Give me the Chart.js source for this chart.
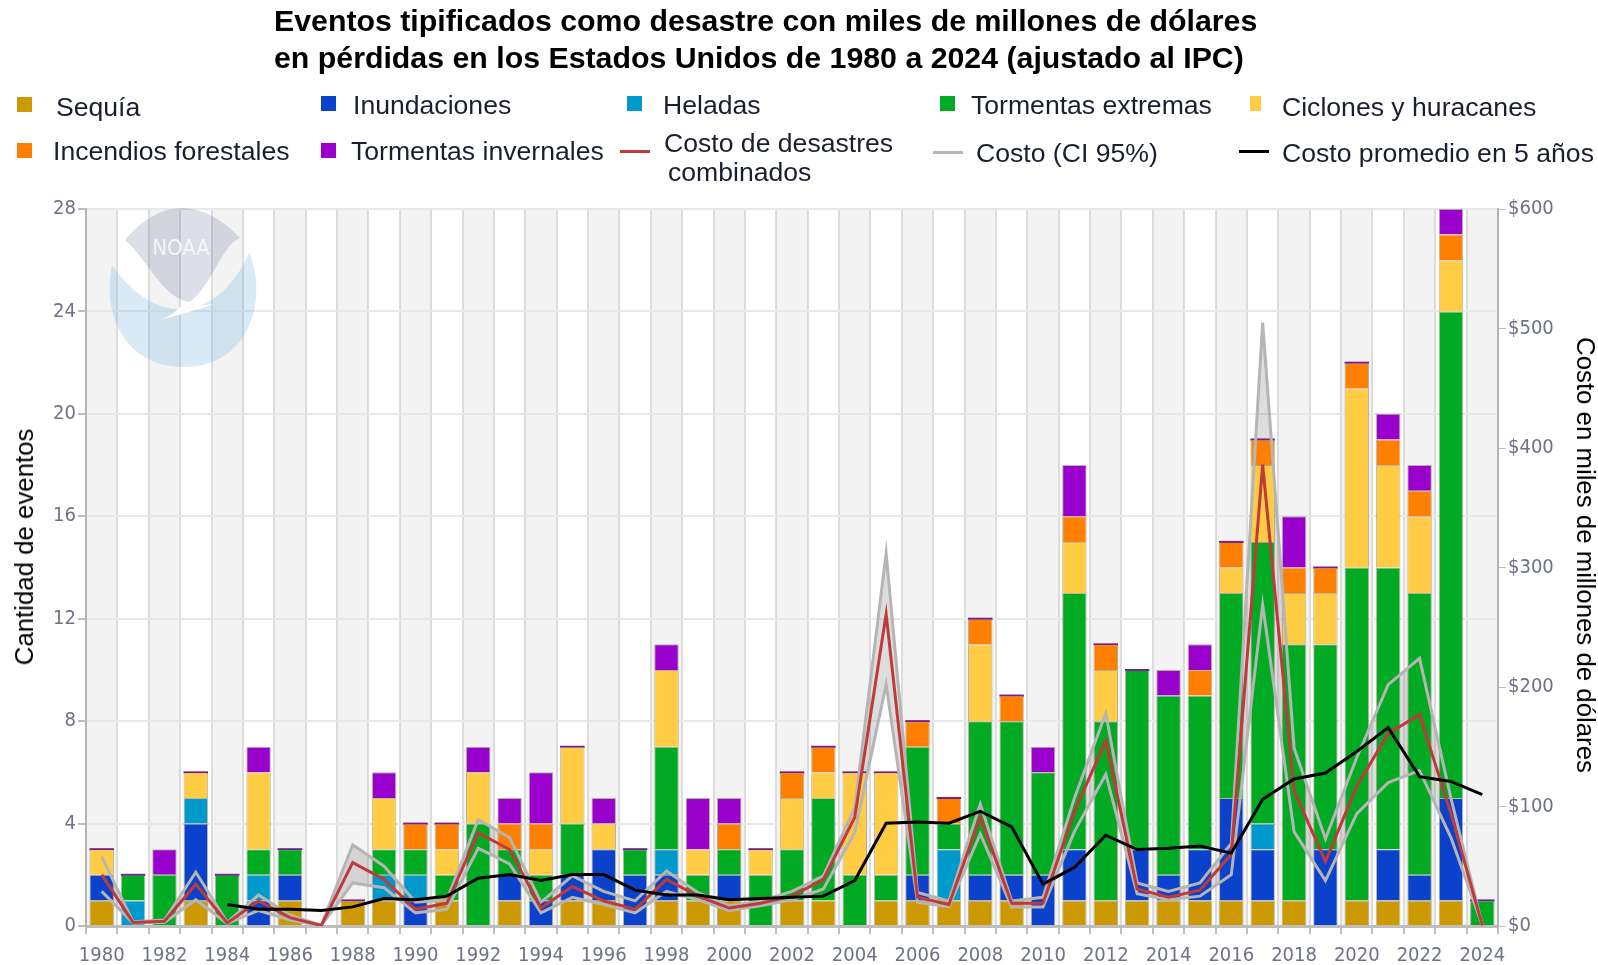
<!DOCTYPE html>
<html lang="es">
<head>
<meta charset="utf-8">
<title>Eventos de desastre en Estados Unidos</title>
<script src="https://cdn.jsdelivr.net/npm/chart.js@4"></script>
<style>
    html, body { margin: 0; padding: 0; background: #ffffff; }
    #wrap { position: relative; width: 1598px; height: 965px; overflow: hidden; font-family: "Liberation Sans", Arial, sans-serif; filter: blur(0.6px); }
    #chart { position: absolute; left: 0; top: 0; }
    #title { position: absolute; left: 274px; top: 2px; font-size: 30.3px; line-height: 37px; font-weight: bold; color: #000; white-space: nowrap; }
    .lg { position: absolute; font-size: 26.6px; line-height: 29px; color: #1a1f30; white-space: nowrap; }
    .sw { position: absolute; width: 15px; height: 15px; }
    .ln { position: absolute; width: 30px; height: 3px; }
    .axt { position: absolute; font-size: 25.8px; line-height: 30px; color: #000; white-space: nowrap; }
</style>
</head>
<body>
<div id="wrap">
    <canvas id="chart" width="1598" height="965"></canvas>
    <div id="title">Eventos tipificados como desastre con miles de millones de dólares<br>en pérdidas en los Estados Unidos de 1980 a 2024 (ajustado al IPC)</div>

    <div class="sw" style="left:17px;top:97px;background:#cc9900"></div><div class="lg" style="left:56px;top:93px">Sequía</div>
    <div class="sw" style="left:321px;top:96px;background:#0a42cc"></div><div class="lg" style="left:353px;top:91px">Inundaciones</div>
    <div class="sw" style="left:627px;top:96px;background:#0099cc"></div><div class="lg" style="left:663px;top:91px">Heladas</div>
    <div class="sw" style="left:940px;top:96px;background:#00aa22"></div><div class="lg" style="left:971px;top:91px">Tormentas extremas</div>
    <div class="sw" style="left:1250px;top:96px;width:11px;background:#ffcc44"></div><div class="lg" style="left:1282px;top:93px">Ciclones y huracanes</div>
    <div class="sw" style="left:17px;top:143px;background:#ff8000"></div><div class="lg" style="left:53px;top:137px">Incendios forestales</div>
    <div class="sw" style="left:321px;top:143px;background:#9900cc"></div><div class="lg" style="left:351px;top:137px">Tormentas invernales</div>
    <div class="ln" style="left:620px;top:150px;background:#c0393b"></div><div class="lg" style="left:664px;top:129px">Costo de desastres</div><div class="lg" style="left:668px;top:158px">combinados</div>
    <div class="ln" style="left:933px;top:151px;background:#b5b5b5"></div><div class="lg" style="left:976px;top:139px">Costo (CI 95%)</div>
    <div class="ln" style="left:1239px;top:150px;background:#000"></div><div class="lg" style="left:1282px;top:139px">Costo promedio en 5 años</div>

    <div class="axt" style="left:24px;top:547px;transform:translate(-50%,-50%) rotate(-90deg)">Cantidad de eventos</div>
    <div class="axt" style="left:1586px;top:555px;transform:translate(-50%,-50%) rotate(90deg)">Costo en miles de millones de dólares</div>
</div>

<script>
// --- DATA ---
const years = [];
for (let y = 1980; y <= 2024; y++) years.push(String(y));

// events per year
const drought  = [1,0,0,1,0,0,1,0,1,1,0,1,0,1,0,1,1,0,1,1,1,0,1,1,0,1,1,1,1,1,0,1,1,1,1,1,1,1,1,0,1,1,1,1,0];
const flood    = [1,0,0,3,0,1,1,0,0,0,1,0,0,1,1,1,2,2,1,0,1,0,0,0,0,0,1,0,1,1,2,2,0,2,1,2,4,2,0,3,0,2,1,4,0];
const freeze   = [0,1,0,1,0,1,0,0,0,1,1,0,0,0,0,0,0,0,1,0,0,0,0,0,0,0,0,2,0,0,0,0,0,0,0,0,0,1,0,0,0,0,0,0,0];
const severe   = [0,1,2,0,2,1,1,0,0,1,1,1,4,1,1,2,0,1,4,1,1,2,2,4,2,1,5,1,6,6,4,10,7,7,7,6,8,11,10,8,13,11,11,19,1];
const cyclone  = [1,0,0,1,0,3,0,0,0,2,0,1,2,0,1,3,1,0,3,1,0,1,2,1,4,4,0,0,3,0,0,2,2,0,0,0,1,3,2,2,7,4,3,2,0];
const wildfire = [0,0,0,0,0,0,0,0,0,0,1,1,0,1,1,0,0,0,0,0,1,0,1,1,0,0,1,1,1,1,0,1,1,0,0,1,1,1,1,1,1,1,1,1,0];
const winter   = [0,0,1,0,0,1,0,0,0,1,0,0,1,1,2,0,1,0,1,2,1,0,0,0,0,0,0,0,0,0,1,2,0,0,1,1,0,0,2,0,0,1,1,1,0];

// cost in billions of dollars
const costAll = [43,3,4,35,2.5,21,7,0.5,53,39,14,19,78,64,15,33,21,14,39,25,15,19,25,39,91,261,24,18,91,19,19,96,155,31,24,30,60,386,113,54,117,161,177,94,0.5];
const costHigh = [58,3.5,5,45,3,26,9,0.7,68,50,20,22,89,74,20,42,29,21,46,28,17,21,29,42,99,312,28,21,102,21,24,107,178,36,29,36,69,505,149,73,141,202,224,107,0.6];
const costLow = [29,2.5,3,22,2,13,5,0.4,36,32,11,14,65,52,11,24,18,11,29,22,13,17,22,31,78,202,20,16,77,16,16,79,127,27,22,25,43,269,79,38,94,120,130,74,0.4];
const cost5yr = [null,null,null,null,18,14,14,13,16,23,22,25,40,43,38,43,43,30,26,26,22,23,24,25,38,86,87,86,96,83,35,49,76,64,65,67,61,106,123,128,146,166,125,121,110];

// --- PLUGINS ---
// alternating grey columns behind the grid
const bandsPlugin = {
    id: 'bands',
    beforeDraw(chart) {
        const { ctx, chartArea, scales } = chart;
        const half = (scales.x.getPixelForTick(1) - scales.x.getPixelForTick(0)) / 2;
        ctx.save();
        ctx.fillStyle = '#f3f3f3';
        years.forEach((yr, i) => {
            if (i % 2 === 0) {
                const cx = scales.x.getPixelForTick(i);
                ctx.fillRect(cx - half, chartArea.top, half * 2, chartArea.height);
            }
        });
        ctx.restore();
    }
};

// NOAA watermark
const logoPlugin = {
    id: 'logo',
    beforeDatasetsDraw(chart) {
        const ctx = chart.ctx;
        ctx.save();
        ctx.beginPath();
        ctx.moveTo(112, 265);
        ctx.bezierCurveTo(126, 285, 150, 310, 182, 309);
        ctx.bezierCurveTo(212, 308, 235, 285, 249, 253);
        ctx.bezierCurveTo(268, 295, 252, 367, 184, 367);
        ctx.bezierCurveTo(122, 367, 102, 310, 112, 265);
        ctx.fillStyle = 'rgba(110,180,225,0.27)';
        ctx.fill();

        ctx.beginPath();
        ctx.moveTo(125, 240);
        ctx.bezierCurveTo(140, 222, 160, 208, 182, 208);
        ctx.bezierCurveTo(205, 208, 225, 222, 240, 238);
        ctx.bezierCurveTo(222, 245, 212, 285, 190, 302);
        ctx.bezierCurveTo(162, 298, 150, 262, 125, 240);
        ctx.fillStyle = 'rgba(70,85,135,0.19)';
        ctx.fill();

        // white tail of the bird
        ctx.beginPath();
        ctx.moveTo(160, 320);
        ctx.quadraticCurveTo(190, 312, 214, 304);
        ctx.quadraticCurveTo(195, 306, 180, 307);
        ctx.quadraticCurveTo(172, 316, 160, 320);
        ctx.fillStyle = '#ffffff';
        ctx.fill();

        ctx.fillStyle = '#f4f5f8';
        ctx.font = '22px "DejaVu Sans Condensed", "DejaVu Sans"';
        ctx.textAlign = 'center';
        ctx.textBaseline = 'middle';
        ctx.fillText('NOAA', 181, 249);
        ctx.restore();
    }
};

// thin winter storm cap that the source leaves on every non empty bar
const capPlugin = {
    id: 'cap',
    afterDatasetDraw(chart, args) {
        if (chart.data.datasets[args.index].label !== 'Tormentas invernales') return;
        const ctx = chart.ctx;
        ctx.save();
        ctx.fillStyle = '#7a1fa0';
        args.meta.data.forEach((bar, i) => {
            if (winter[i] === 0 && bar.y < chart.chartArea.bottom - 1) {
                ctx.fillRect(bar.x - bar.width / 2, bar.y - 1, bar.width, 2);
            }
        });
        ctx.restore();
    }
};

// --- CHART ---
function barSet(label, data, color) {
    return {
        type: 'bar', label, data, backgroundColor: color,
        borderColor: 'rgba(70,50,0,0.35)', borderWidth: 1, order: 10,
        barPercentage: 0.78, categoryPercentage: 1, yAxisID: 'y', stack: 'events'
    };
}

function lineSet(label, data, color, width, order) {
    return {
        type: 'line', label, data, borderColor: color, borderWidth: width, order,
        pointRadius: 0, tension: 0, fill: false, yAxisID: 'y1', borderJoinStyle: 'miter'
    };
}

const tickFont = { family: '"DejaVu Sans Condensed", "DejaVu Sans"', size: 20 };
const tickColor = '#6e7285';

const upperBand = lineSet('CI banda alta', costHigh, 'rgba(0,0,0,0)', 0, 20);
upperBand.fill = '+1';
upperBand.backgroundColor = 'rgba(120,120,120,0.25)';
const lowerBand = lineSet('CI banda baja', costLow, 'rgba(0,0,0,0)', 0, 21);

new Chart(document.getElementById('chart'), {
    data: {
        labels: years,
        datasets: [
            upperBand,
            lowerBand,
            barSet('Sequía', drought, '#cc9900'),
            barSet('Inundaciones', flood, '#0a42cc'),
            barSet('Heladas', freeze, '#0099cc'),
            barSet('Tormentas extremas', severe, '#00aa22'),
            barSet('Ciclones y huracanes', cyclone, '#ffcc44'),
            barSet('Incendios forestales', wildfire, '#ff8000'),
            barSet('Tormentas invernales', winter, '#9900cc'),
            lineSet('Costo (CI 95%) alto', costHigh, '#b5b5b5', 3, 3),
            lineSet('Costo (CI 95%) bajo', costLow, '#b5b5b5', 3, 3),
            lineSet('Costo de desastres combinados', costAll, '#c0393b', 3, 2),
            lineSet('Costo promedio en 5 años', cost5yr, '#000000', 3, 1)
        ]
    },
    plugins: [bandsPlugin, logoPlugin, capPlugin],
    options: {
        responsive: false,
        animation: false,
        layout: { padding: { top: 209, left: 0, right: 0, bottom: 0 } },
        plugins: { legend: { display: false }, title: { display: false }, tooltip: { enabled: false } },
        scales: {
            x: {
                stacked: true,
                grid: { offset: true, color: '#dcdcdc', lineWidth: 2, tickColor: '#bdbdbd', tickLength: 8, drawOnChartArea: true },
                border: { color: '#bdbdbd', width: 3 },
                ticks: {
                    autoSkip: false, maxRotation: 0, minRotation: 0, padding: 10,
                    font: tickFont, color: tickColor,
                    callback(value, i) { return i % 2 === 0 ? years[i] : ''; }
                },
                afterFit(scale) { scale.height = 39; }
            },
            y: {
                stacked: true, min: 0, max: 28,
                grid: { color: '#e8e8e8', lineWidth: 2, tickColor: '#bdbdbd', tickLength: 8 },
                border: { color: '#b5b5b5', width: 2 },
                ticks: { stepSize: 4, padding: 2, font: tickFont, color: tickColor },
                afterFit(scale) { scale.width = 86; }
            },
            y1: {
                position: 'right', min: 0, max: 600,
                grid: { drawOnChartArea: false, tickColor: '#bdbdbd', tickLength: 8 },
                border: { color: '#b5b5b5', width: 2 },
                ticks: { stepSize: 100, padding: 2, font: tickFont, color: tickColor, callback: v => '$' + v },
                afterFit(scale) { scale.width = 100; }
            }
        }
    }
});
</script>
</body>
</html>
